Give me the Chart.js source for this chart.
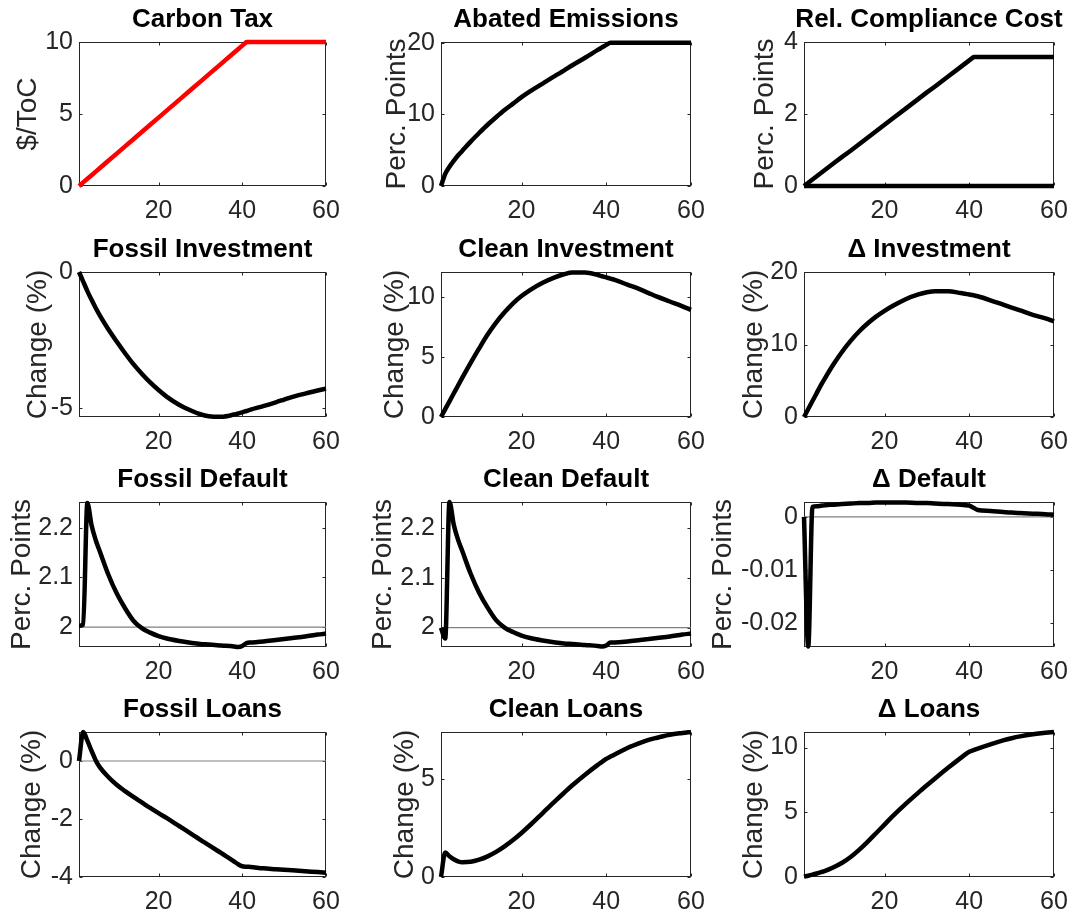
<!DOCTYPE html>
<html>
<head>
<meta charset="utf-8">
<script src="https://cdn.jsdelivr.net/npm/chart.js@4.4.1/dist/chart.umd.min.js"></script>
<style>
  html, body { margin: 0; padding: 0; background: #fff; overflow: hidden; }
  #fig { position: relative; width: 1075px; height: 917px; overflow: hidden; background: #fff; }
  #fig canvas { position: absolute; }
</style>
</head>
<body>
<div id="fig"></div>
<script>
// ── Data ─────────────────────────────────────────────────────────────
const periods = [1, 2, 3, 4, 5, 6, 8, 10, 12, 14, 16, 18, 20, 22, 25, 28, 30, 32, 35, 38, 39, 40, 41, 42, 45, 48, 50, 52, 55, 58, 60];
const flatPeriods = [1, 60];

const carbonTax      = [0, 0.25, 0.5, 0.75, 1, 1.25, 1.75, 2.25, 2.75, 3.25, 3.75, 4.25, 4.75, 5.25, 6, 6.75, 7.25, 7.75, 8.5, 9.25, 9.5, 9.75, 10, 10, 10, 10, 10, 10, 10, 10, 10];
const abatedEmis     = [0, 1.7, 2.7, 3.5, 4.25, 4.9, 6.2, 7.4, 8.55, 9.6, 10.6, 11.5, 12.4, 13.2, 14.3, 15.4, 16.1, 16.85, 17.9, 19.0, 19.35, 19.7, 20, 20, 20, 20, 20, 20, 20, 20, 20];
const complianceCost = [0, 0.09, 0.18, 0.27, 0.36, 0.45, 0.63, 0.81, 0.98, 1.16, 1.34, 1.52, 1.7, 1.88, 2.15, 2.42, 2.6, 2.77, 3.04, 3.31, 3.4, 3.49, 3.58, 3.58, 3.58, 3.58, 3.58, 3.58, 3.58, 3.58, 3.58];
const complianceBase = [0, 0];

const fossilInv = [0, -0.35, -0.7, -1.02, -1.32, -1.6, -2.1, -2.55, -2.98, -3.38, -3.73, -4.05, -4.33, -4.58, -4.88, -5.1, -5.22, -5.29, -5.31, -5.23, -5.19, -5.15, -5.1, -5.05, -4.92, -4.78, -4.68, -4.58, -4.46, -4.35, -4.28];
const cleanInv  = [0, 0.65, 1.3, 1.95, 2.6, 3.25, 4.5, 5.7, 6.85, 7.85, 8.7, 9.45, 10.05, 10.55, 11.15, 11.62, 11.86, 12.01, 12.0, 11.8, 11.7, 11.6, 11.5, 11.4, 11.0, 10.6, 10.3, 10.0, 9.6, 9.2, 8.9];
const deltaInv  = [0, 1.1, 2.2, 3.3, 4.4, 5.4, 7.3, 9.0, 10.5, 11.8, 12.9, 13.85, 14.65, 15.35, 16.25, 16.9, 17.2, 17.35, 17.35, 17.1, 17.0, 16.9, 16.8, 16.65, 16.1, 15.5, 15.1, 14.7, 14.1, 13.6, 13.2];

const fossilDef = [2.003, 2.005, 2.25, 2.205, 2.175, 2.152, 2.106, 2.068, 2.038, 2.013, 1.998, 1.989, 1.982, 1.977, 1.972, 1.968, 1.966, 1.965, 1.963, 1.961, 1.960, 1.962, 1.968, 1.969, 1.971, 1.974, 1.976, 1.978, 1.981, 1.985, 1.987];
const cleanDef  = [2.0, 1.978, 2.252, 2.207, 2.177, 2.154, 2.108, 2.07, 2.04, 2.015, 2.0, 1.991, 1.984, 1.979, 1.974, 1.970, 1.968, 1.967, 1.965, 1.963, 1.962, 1.964, 1.970, 1.970, 1.972, 1.975, 1.977, 1.979, 1.982, 1.986, 1.988];
const deltaDef  = [0, -0.0245, 0.0019, 0.002, 0.0021, 0.0022, 0.0023, 0.0024, 0.0025, 0.0026, 0.0026, 0.0027, 0.0027, 0.0027, 0.0027, 0.0026, 0.0026, 0.0025, 0.0024, 0.0023, 0.0022, 0.0021, 0.0017, 0.0013, 0.0011, 0.0009, 0.0008, 0.0007, 0.0006, 0.0005, 0.0004];
const defaultBase = [2, 2];
const zeroBase    = [0, 0];

const fossilLoans = [0, 1.0, 0.7, 0.35, 0.02, -0.22, -0.55, -0.82, -1.04, -1.24, -1.43, -1.62, -1.8, -1.97, -2.25, -2.53, -2.72, -2.9, -3.18, -3.46, -3.56, -3.63, -3.645, -3.655, -3.7, -3.73, -3.75, -3.77, -3.8, -3.83, -3.85];
const cleanLoans  = [0, 1.25, 1.05, 0.9, 0.8, 0.75, 0.77, 0.88, 1.05, 1.28, 1.56, 1.88, 2.24, 2.63, 3.25, 3.87, 4.27, 4.66, 5.2, 5.7, 5.85, 6.0, 6.12, 6.23, 6.56, 6.82, 6.97, 7.08, 7.23, 7.32, 7.37];
const deltaLoans  = [0.03, 0.1, 0.18, 0.27, 0.37, 0.48, 0.76, 1.1, 1.55, 2.1, 2.72, 3.38, 4.05, 4.72, 5.65, 6.52, 7.08, 7.63, 8.43, 9.2, 9.45, 9.67, 9.8, 9.92, 10.25, 10.55, 10.72, 10.86, 11.02, 11.14, 11.2];

const xTicks = [20, 40, 60];

// ── Panel specs ─────────────────────────────────────────────────────
const panels = [
  { title: 'Carbon Tax',           ylabel: '$/ToC',        yTicks: [0, 5, 10],           yMin: 0,       yMax: 10,     lines: [[carbonTax, '#ff0000', 0]] },
  { title: 'Abated Emissions',     ylabel: 'Perc. Points', yTicks: [0, 10, 20],          yMin: 0,       yMax: 20.1,   lines: [[abatedEmis, '#000', 0.4]] },
  { title: 'Rel. Compliance Cost', ylabel: 'Perc. Points', yTicks: [0, 2, 4],            yMin: 0,       yMax: 4,      lines: [[complianceCost, '#000', 0]], flat: [complianceBase, '#000', 4.5] },
  { title: 'Fossil Investment',    ylabel: 'Change (%)',   yTicks: [-5, 0],              yMin: -5.32,   yMax: 0,      lines: [[fossilInv, '#000', 0.4]] },
  { title: 'Clean Investment',     ylabel: 'Change (%)',   yTicks: [0, 5, 10],           yMin: 0,       yMax: 12.05,  lines: [[cleanInv, '#000', 0.4]] },
  { title: 'Δ Investment',         ylabel: 'Change (%)',   yTicks: [0, 10, 20],          yMin: 0,       yMax: 20,     lines: [[deltaInv, '#000', 0.4]] },
  { title: 'Fossil Default',       ylabel: 'Perc. Points', yTicks: [2, 2.1, 2.2],        yMin: 1.96,    yMax: 2.252,  lines: [[fossilDef, '#000', 0.4]], flat: [defaultBase, '#808080', 1.2] },
  { title: 'Clean Default',        ylabel: 'Perc. Points', yTicks: [2, 2.1, 2.2],        yMin: 1.961,   yMax: 2.252,  lines: [[cleanDef, '#000', 0.4]], flat: [defaultBase, '#808080', 1.2] },
  { title: 'Δ Default',            ylabel: 'Perc. Points', yTicks: [-0.02, -0.01, 0],    yMin: -0.0246, yMax: 0.0028, lines: [[deltaDef, '#000', 0.4]], flat: [zeroBase, '#808080', 1.2] },
  { title: 'Fossil Loans',         ylabel: 'Change (%)',   yTicks: [-4, -2, 0],          yMin: -4,      yMax: 1.0,    lines: [[fossilLoans, '#000', 0.4]], flat: [zeroBase, '#808080', 1.2] },
  { title: 'Clean Loans',          ylabel: 'Change (%)',   yTicks: [0, 5],               yMin: 0,       yMax: 7.37,   lines: [[cleanLoans, '#000', 0.4]] },
  { title: 'Δ Loans',              ylabel: 'Change (%)',   yTicks: [0, 5, 10],           yMin: 0,       yMax: 11.2,   lines: [[deltaLoans, '#000', 0.4]] },
];

// ── Layout (pixel grid of the figure) ───────────────────────────────
const colLeft  = [79, 441, 804];
const colWidth = [247, 250, 250];
const rowTop   = [42, 272, 502, 732];
const rowH     = [144, 145, 145, 145];
const labelGap = [51, 44, 39, 41, 46, 50, 57, 58, 81, 47, 36, 50]; // y-label centre → axis
const LEFT = 100, TOP = 42, BOTTOM = 45, RIGHT = 100;
const FONT = "'Liberation Sans', Arial, Helvetica, sans-serif";
const INK = '#262626';

// MATLAB-ish box + inward tick marks on all four sides
const axesFrame = {
  id: 'axesFrame',
  beforeDatasetsDraw(chart) {
    const { ctx, chartArea: a, scales: { x, y } } = chart;
    const L = Math.round(a.left) + 0.5, R = Math.round(a.right) - 0.5;
    const T = Math.round(a.top) + 0.5, B = Math.round(a.bottom) - 0.5;
    ctx.save();
    ctx.strokeStyle = INK;
    ctx.lineWidth = 1;
    ctx.strokeRect(L, T, R - L, B - T);
    ctx.beginPath();
    x.ticks.forEach(t => {
      const p = Math.round(x.getPixelForValue(t.value)) + 0.5;
      ctx.moveTo(p, B); ctx.lineTo(p, B - 3);
      ctx.moveTo(p, T); ctx.lineTo(p, T + 3);
    });
    y.ticks.forEach(t => {
      const p = Math.round(y.getPixelForValue(t.value)) + 0.5;
      ctx.moveTo(L, p); ctx.lineTo(L + 3, p);
      ctx.moveTo(R, p); ctx.lineTo(R - 3, p);
    });
    ctx.stroke();
    ctx.restore();
  },
};

const fig = document.getElementById('fig');

panels.forEach((p, i) => {
  const col = i % 3, row = Math.floor(i / 3);
  const w = colWidth[col], h = rowH[row];
  const cv = document.createElement('canvas');
  cv.width = w + LEFT + RIGHT;
  cv.height = h + TOP + BOTTOM;
  cv.style.left = (colLeft[col] - LEFT) + 'px';
  cv.style.top = (rowTop[row] - TOP) + 'px';
  cv.style.width = cv.width + 'px';
  cv.style.height = cv.height + 'px';
  fig.appendChild(cv);

  const datasets = p.lines.map(([vals, color, tension]) => ({
    data: periods.map((x, k) => ({ x, y: vals[k] })),
    borderColor: color,
    borderWidth: 4.5,
    tension,
    cubicInterpolationMode: tension ? 'monotone' : 'default',
    borderJoinStyle: 'round',
    pointRadius: 0,
    clip: false,
  }));
  if (p.flat) {
    const [vals, color, bw] = p.flat;
    datasets.push({
      data: flatPeriods.map((x, k) => ({ x, y: vals[k] })),
      borderColor: color,
      borderWidth: bw,
      pointRadius: 0,
      clip: false,
    });
  }

  const titleTop = LEFT - labelGap[i] - 16.8;

  new Chart(cv, {
    type: 'line',
    data: { datasets },
    plugins: [axesFrame],
    options: {
      responsive: false,
      animation: false,
      events: [],
      layout: { padding: 0 },
      plugins: {
        legend: { display: false },
        tooltip: { enabled: false },
        title: {
          display: true,
          text: p.title,
          color: '#000',
          font: { family: FONT, size: 26, weight: 'bold', lineHeight: 1.2 },
          padding: { top: 4.4, bottom: 6.4 },
        },
      },
      scales: {
        x: {
          type: 'linear',
          min: 1, max: 60,
          grid: { display: false, drawTicks: false },
          border: { display: false },
          afterBuildTicks: s => { s.ticks = xTicks.map(v => ({ value: v })); },
          afterFit: s => { s.height = BOTTOM; },
          ticks: { padding: 10, autoSkip: false, maxRotation: 0, color: INK, font: { family: FONT, size: 25 }, callback: v => String(v) },
        },
        y: {
          type: 'linear',
          min: p.yMin, max: p.yMax,
          grid: { display: false, drawTicks: false },
          border: { display: false },
          afterBuildTicks: s => { s.ticks = p.yTicks.map(v => ({ value: v })); },
          afterFit: s => { s.width = LEFT; },
          ticks: { padding: 6, autoSkip: false, color: INK, font: { family: FONT, size: 25 }, callback: v => String(v) },
          title: {
            display: true,
            text: p.ylabel,
            color: INK,
            font: { family: FONT, size: 28, lineHeight: 1.2 },
            padding: { top: titleTop, bottom: 0 },
          },
        },
        // empty right-hand axis: balances the left one so the title centres on the plot
        yRight: {
          type: 'linear',
          position: 'right',
          min: p.yMin, max: p.yMax,
          grid: { display: false, drawTicks: false },
          border: { display: false },
          ticks: { display: false },
          afterFit: s => { s.width = RIGHT; },
        },
      },
    },
  });
});
</script>
</body>
</html>
